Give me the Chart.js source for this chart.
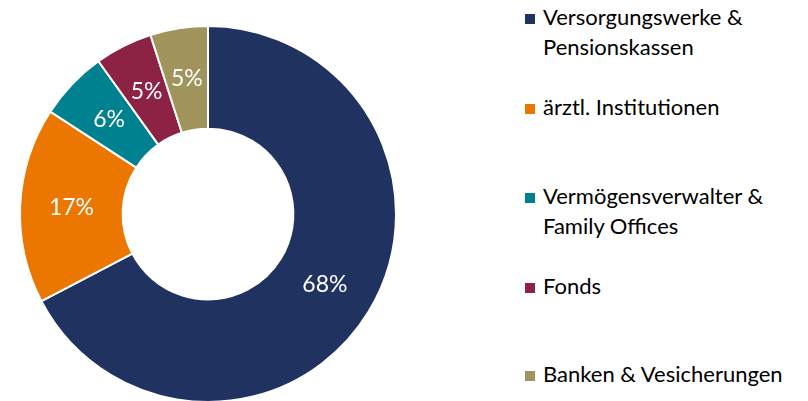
<!DOCTYPE html>
<html>
<head>
<meta charset="utf-8">
<script src="https://cdn.jsdelivr.net/npm/chart.js@4/dist/chart.umd.min.js"></script>
<style>
  html, body { margin: 0; padding: 0; background: #fff; width: 808px; height: 401px; overflow: hidden; }
  #wrap { position: absolute; left: 0; top: 0; width: 416px; height: 428px; }
  #legend { position: absolute; left: 525px; top: 0; font-family: Lato, "Open Sans", sans-serif; font-size: 22px; color: #000; }
  .item { position: absolute; left: 0; white-space: nowrap; line-height: 30px; }
  .box { position: absolute; left: 0; top: 12px; width: 10px; height: 10px; }
  .txt { position: absolute; left: 18px; top: 0; }
</style>
</head>
<body>
<div id="wrap"><canvas id="chart"></canvas></div>
<div id="legend"></div>
<script>
const categories = ['Versorgungswerke & Pensionskassen', 'ärztl. Institutionen', 'Vermögensverwalter & Family Offices', 'Fonds', 'Banken & Vesicherungen'];
const legendLines = [['Versorgungswerke &', 'Pensionskassen'], ['ärztl. Institutionen'], ['Vermögensverwalter &', 'Family Offices'], ['Fonds'], ['Banken & Vesicherungen']];
const shares = [68, 17, 6, 5, 5];
const colors = ['#1F3260', '#EB7700', '#00818F', '#8C2244', '#A0945C'];
const legendTops = [2, 92, 181, 271, 359];

// legend
const legend = document.getElementById('legend');
legendLines.forEach((lines, i) => {
    const item = document.createElement('div');
    item.className = 'item';
    item.style.top = legendTops[i] + 'px';
    item.innerHTML = '<div class="box" style="background:' + colors[i] + '"></div>' +
        '<div class="txt">' + lines.join('<br>') + '</div>';
    legend.appendChild(item);
});

const pctLabels = {
    id: 'pctLabels',
    afterDatasetsDraw(chart) {
        const c = chart.ctx;
        const meta = chart.getDatasetMeta(0);
        c.save();
        c.fillStyle = '#fff';
        c.font = '23px Lato, "Open Sans", sans-serif';
        c.textAlign = 'center';
        c.textBaseline = 'middle';
        meta.data.forEach((arc, i) => {
            const p = arc.tooltipPosition();
            c.fillText(shares[i] + '%', p.x, p.y);
        });
        c.restore();
    }
};

const ctx = document.getElementById('chart').getContext('2d');
new Chart(ctx, {
    type: 'doughnut',
    data: {
        labels: categories,
        datasets: [{
            data: shares,
            backgroundColor: colors,
            borderColor: '#fff',
            borderWidth: 2,
            hoverOffset: 0,
            radius: 188,
            cutout: 94,
        }],
    },
    options: {
        responsive: true,
        maintainAspectRatio: false,
        animation: false,
        layout: { padding: 0 },
        plugins: {
            legend: { display: false },
            tooltip: { enabled: false },
        },
    },
    plugins: [pctLabels],
});
</script>
</body>
</html>
